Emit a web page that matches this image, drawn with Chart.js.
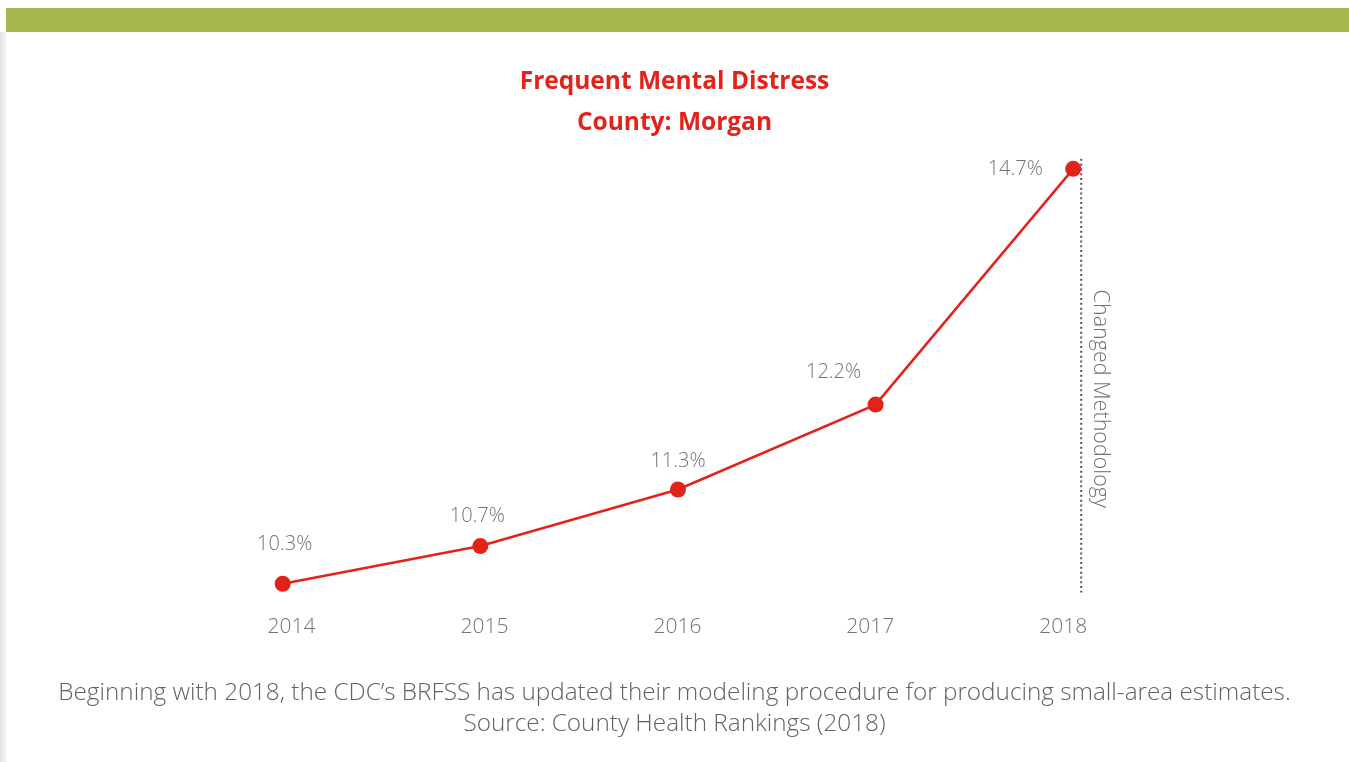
<!DOCTYPE html>
<html>
<head>
<meta charset="utf-8">
<script src="https://cdn.jsdelivr.net/npm/chart.js@4.4.1/dist/chart.umd.min.js"></script>
<style>
  html, body { margin: 0; padding: 0; background: #fff; }
  .topbar { position: absolute; left: 6px; right: 0; top: 8px; height: 24px; background: #a7b850; }
  .edge { position: absolute; left: 0; top: 32px; bottom: 0; width: 6px; background: linear-gradient(to right, #e2e2e2, #f4f4f4); }
  .wrap { position: absolute; left: 0; top: 0; width: 1349px; height: 762px; }
</style>
</head>
<body>
<div class="topbar"></div>
<div class="edge"></div>
<div class="wrap"><canvas id="chart" width="1349" height="762"></canvas></div>
<script>
const years = [2014, 2015, 2016, 2017, 2018];
const distress = [10.3, 10.7, 11.3, 12.2, 14.7];
const titleLines = ['Frequent Mental Distress', 'County: Morgan'];
const noteLines = [
  'Beginning with 2018, the CDC\u2019s BRFSS has updated their modeling procedure for producing small-area estimates.',
  'Source: County Health Rankings (2018)'
];
const markerText = 'Changed Methodology';

const red = '#e3231b';
const grey = '#737373';

// value labels and the methodology marker
const extras = {
  id: 'extras',
  afterDatasetsDraw(chart) {
    const ctx = chart.ctx;
    const area = chart.chartArea;
    const xs = chart.scales.x;
    const pts = chart.getDatasetMeta(0).data;

    // dotted line just right of the last year
    const lx = xs.getPixelForValue(years[years.length - 1]) + 8;
    ctx.save();
    ctx.strokeStyle = '#555';
    ctx.lineWidth = 2;
    ctx.setLineDash([2, 2.8]);
    ctx.beginPath();
    ctx.moveTo(lx, area.top + 8);
    ctx.lineTo(lx, area.bottom - 2);
    ctx.stroke();
    ctx.restore();

    ctx.save();
    ctx.translate(lx + 19, (area.top + area.bottom) / 2 + 26);
    ctx.rotate(Math.PI / 2);
    ctx.font = '300 21.5px "Open Sans"';
    ctx.fillStyle = grey;
    ctx.textAlign = 'center';
    ctx.textBaseline = 'middle';
    ctx.fillText(markerText, 0, 0);
    ctx.restore();

    // percentage labels: above the point, the last two pushed to the left
    const shift = [[2, -39], [-3, -30], [0, -28], [-42, -32], [-58, 0]];
    ctx.save();
    ctx.font = '300 20px "Open Sans"';
    ctx.fillStyle = grey;
    ctx.textAlign = 'center';
    ctx.textBaseline = 'middle';
    pts.forEach((p, i) => {
      const s = shift[i] || [0, -30];
      ctx.fillText(distress[i].toFixed(1) + '%', p.x + s[0], p.y + s[1]);
    });
    ctx.restore();
  }
};

new Chart(document.getElementById('chart'), {
  type: 'line',
  data: {
    datasets: [{
      data: years.map((y, i) => ({ x: y, y: distress[i] })),
      borderColor: red,
      backgroundColor: red,
      borderWidth: 2.5,
      pointRadius: 8,
      pointHoverRadius: 8,
      pointBorderWidth: 0,
      tension: 0,
      clip: false
    }]
  },
  options: {
    responsive: false,
    animation: false,
    devicePixelRatio: 1,
    layout: { padding: { top: 32, left: 0, right: 0, bottom: 12 } },
    plugins: {
      legend: { display: false },
      tooltip: { enabled: false },
      title: {
        display: true,
        text: titleLines,
        color: red,
        font: { family: '"Open Sans"', size: 24.5, weight: 'bold', lineHeight: 1.67 },
        padding: { top: 30, bottom: 7 }
      },
      subtitle: {
        display: true,
        position: 'bottom',
        text: noteLines,
        color: '#626262',
        font: { family: '"Open Sans"', size: 24.3, weight: '300', lineHeight: 1.3 },
        padding: { top: 17, bottom: 10 }
      }
    },
    scales: {
      x: {
        type: 'linear',
        display: false,
        min: 2012.610,
        max: 2019.355
      },
      years: {
        type: 'linear',
        position: 'bottom',
        min: 2012.530,
        max: 2019.440,
        afterBuildTicks: s => { s.ticks = years.map(v => ({ value: v })); },
        grid: { display: false, drawTicks: false },
        border: { display: false },
        ticks: {
          color: grey,
          padding: 20,
          maxRotation: 0,
          font: { family: '"Open Sans"', size: 21, weight: '300' },
          callback: v => String(Math.round(v))
        }
      },
      y: {
        display: false,
        min: 10.185,
        max: 14.891
      }
    }
  },
  plugins: [extras]
});
</script>
</body>
</html>
